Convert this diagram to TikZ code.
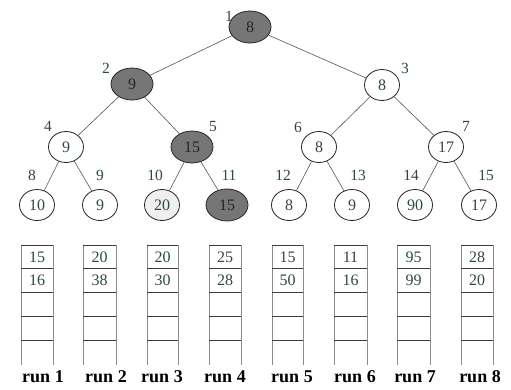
\documentclass[tikz,border=0pt]{standalone}
\usepackage{fontspec}
\setmainfont{Liberation Serif}
\usetikzlibrary{shapes.geometric}
\definecolor{nodegray}{HTML}{767676}
\definecolor{lightfill}{HTML}{EFEFEF}
\definecolor{txtgreen}{HTML}{2E4A3C}
\definecolor{edgecol}{HTML}{555555}
\definecolor{vcol}{HTML}{8A8A8A}
\definecolor{hcol}{HTML}{3C3C3C}
\tikzset{
  tnode/.style={ellipse,draw=black!85,line width=0.8pt,fill=white,inner sep=0pt,
    minimum width=35pt,minimum height=31pt,font=\fontsize{16}{16}\selectfont,text=txtgreen},
  dark/.style={fill=nodegray,text=black!85,minimum width=42pt,minimum height=32pt},
  light/.style={fill=lightfill},
  idx/.style={font=\fontsize{15.5}{15.5}\selectfont,text=txtgreen,inner sep=0pt},
  edge/.style={draw=edgecol,line width=0.6pt},
  cell/.style={font=\fontsize{16}{16}\selectfont,text=txtgreen,inner sep=0pt},
  runlab/.style={font=\fontsize{18}{18}\selectfont\bfseries,text=black,inner sep=0pt},
  vline/.style={draw=vcol,line width=1pt},
  hline/.style={draw=hcol,line width=1pt}
}
\begin{document}
\begin{tikzpicture}[x=1pt,y=-1pt]
\useasboundingbox[fill=white] (0,0) rectangle (511,389);
% tree nodes
\node[tnode,dark] (n1) at (250,27) {8};
\node[tnode,dark] (n2) at (132,84) {9};
\node[tnode] (n3) at (382,85) {8};
\node[tnode] (n4) at (66,147) {9};
\node[tnode,dark] (n5) at (192,147) {15};
\node[tnode] (n6) at (319,147) {8};
\node[tnode] (n7) at (446,147) {17};
\node[tnode] (n8) at (37,205) {10};
\node[tnode] (n9) at (100,205) {9};
\node[tnode,light] (n10) at (162,205) {20};
\node[tnode,dark] (n11) at (227,205) {15};
\node[tnode] (n12) at (289,205) {8};
\node[tnode] (n13) at (352,205) {9};
\node[tnode] (n14) at (415,205) {90};
\node[tnode] (n15) at (479,205) {17};
% edges
\foreach \p/\c in {n1/n2,n1/n3,n2/n4,n2/n5,n3/n6,n3/n7,n4/n8,n4/n9,n5/n10,n5/n11,n6/n12,n6/n13,n7/n14,n7/n15}
  \draw[edge] (\p) -- (\c);
% index labels
\node[idx] (i1) at (229,16) {1};
\node[idx] (i2) at (106,68) {2};
\node[idx] (i3) at (405,68) {3};
\node[idx] (i4) at (48,126) {4};
\node[idx] (i5) at (213,126) {5};
\node[idx] (i6) at (298,127) {6};
\node[idx] (i7) at (466,126) {7};
\node[idx] (i8) at (32,175) {8};
\node[idx] (i9) at (100,175) {9};
\node[idx] (i10) at (155,175) {10};
\node[idx] (i11) at (229,175) {11};
\node[idx] (i12) at (283,175) {12};
\node[idx] (i13) at (358,175) {13};
\node[idx] (i14) at (411,175) {14};
\node[idx] (i15) at (486,175) {15};
% runs
\foreach \k/\xl/\xr/\a/\b/\lx in {1/21/53/15/16/43, 2/83/116/20/38/106, 3/147/178/20/30/162, 4/209/241/25/28/225, 5/272/303/15/50/292, 6/334/367/11/16/355, 7/397/430/95/99/415, 8/461/493/28/20/480}{
  \draw[vline] (\xl,245) -- (\xl,365);
  \draw[vline] (\xr,245) -- (\xr,365);
  \foreach \yy in {245,268,292,316,340}
    \draw[hline] (\xl,\yy) -- (\xr,\yy);
  \node[cell] (r\k a) at ({(\xl+\xr)/2},257) {\a};
  \node[cell] (r\k b) at ({(\xl+\xr)/2},280) {\b};
  \node[runlab] (run\k) at (\lx,377) {run \k};
}
\end{tikzpicture}
\end{document}
